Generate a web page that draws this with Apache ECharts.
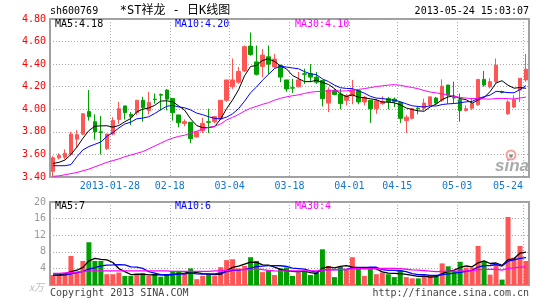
<!DOCTYPE html>
<html><head><meta charset="utf-8">
<script src="https://cdn.jsdelivr.net/npm/echarts@6/dist/echarts.min.js"></script>
<style>html,body{margin:0;padding:0;background:#fff}#c{width:545px;height:300px}</style>
</head><body><div id="c"></div>
<script>
const dates = ['2013-01-14','2013-01-15','2013-01-16','2013-01-17','2013-01-18','2013-01-21','2013-01-22','2013-01-23','2013-01-24','2013-01-25',
'2013-01-28','2013-01-29','2013-01-30','2013-01-31','2013-02-01','2013-02-04','2013-02-05','2013-02-06','2013-02-07','2013-02-08',
'2013-02-18','2013-02-19','2013-02-20','2013-02-21','2013-02-22','2013-02-25','2013-02-26','2013-02-27','2013-02-28','2013-03-01',
'2013-03-04','2013-03-05','2013-03-06','2013-03-07','2013-03-08','2013-03-11','2013-03-12','2013-03-13','2013-03-14','2013-03-15',
'2013-03-18','2013-03-19','2013-03-20','2013-03-21','2013-03-22','2013-03-25','2013-03-26','2013-03-27','2013-03-28','2013-03-29',
'2013-04-01','2013-04-02','2013-04-03','2013-04-08','2013-04-09','2013-04-10','2013-04-11','2013-04-12',
'2013-04-15','2013-04-16','2013-04-17','2013-04-18','2013-04-19','2013-04-22','2013-04-23','2013-04-24','2013-04-25','2013-04-26',
'2013-05-03','2013-05-06','2013-05-07','2013-05-08','2013-05-09','2013-05-10','2013-05-13','2013-05-14','2013-05-15','2013-05-22','2013-05-23','2013-05-24'];

const tickDates = ['2013-01-28','2013-02-18','2013-03-04','2013-03-18','2013-04-01','2013-04-15','2013-05-03','2013-05-24'];
const tickText  = ['2013-01-28','02-18','03-04','03-18','04-01','04-15','05-03','05-24'];

const opens = [3.45,3.57,3.575,3.60,3.735,3.78,3.98,3.89,3.80,3.65,
3.78,3.91,4.03,3.955,3.97,4.08,3.99,4.09,4.13,4.17,
4.095,3.95,3.875,3.885,3.755,3.81,3.89,3.89,3.915,4.08,
4.20,4.24,4.34,4.56,4.42,4.38,4.465,4.375,4.39,4.26,
4.19,4.20,4.315,4.315,4.285,4.255,4.055,4.165,4.135,4.08,
4.12,4.165,4.065,4.08,4.005,4.05,4.095,4.09,4.06,3.90,
3.92,4.01,4.01,4.04,4.10,4.08,4.215,4.105,4.085,3.99,
4.01,4.04,4.265,4.20,4.245,4.155,3.96,4.02,4.17,4.26];
const closes = [3.57,3.59,3.61,3.78,3.775,3.96,3.935,3.80,3.795,3.78,
3.90,4.005,3.97,3.935,4.08,4.015,4.06,4.085,4.125,4.09,
3.97,3.88,3.89,3.74,3.80,3.875,3.885,3.935,4.08,4.26,
4.26,4.335,4.555,4.485,4.31,4.48,4.40,4.445,4.285,4.18,
4.188,4.26,4.31,4.285,4.24,4.095,4.17,4.131,4.05,4.12,
4.17,4.065,4.105,4.005,4.075,4.07,4.065,4.07,3.92,3.93,
4.005,4.005,4.055,4.11,4.055,4.205,4.125,4.10,3.99,4.005,
4.05,4.265,4.215,4.245,4.39,4.15,4.065,4.085,4.275,4.355];
const lows = [3.405,3.555,3.557,3.59,3.66,3.77,3.90,3.73,3.60,3.64,
3.77,3.87,3.91,3.86,3.95,3.89,3.955,4.05,3.99,3.99,
3.90,3.84,3.85,3.70,3.75,3.79,3.79,3.875,3.905,4.065,
4.18,4.225,4.33,4.475,4.30,4.285,4.31,4.365,4.24,4.155,
4.145,4.195,4.225,4.24,4.225,4.025,3.975,4.125,4.0,4.035,
4.045,4.045,4.035,3.88,3.96,4.04,4.0,4.02,3.88,3.79,
3.91,3.955,3.99,4.025,4.045,4.065,4.05,4.05,3.89,3.98,
3.995,4.03,4.20,4.185,4.235,4.14,3.95,4.01,4.065,4.245];
const highs = [3.585,3.61,3.645,3.80,3.815,3.965,4.17,3.955,3.94,3.785,
3.93,4.065,4.03,3.975,4.08,4.11,4.155,4.14,4.14,4.18,
4.095,3.95,3.91,3.885,3.81,3.925,4.005,3.94,4.08,4.26,
4.45,4.375,4.565,4.68,4.565,4.535,4.565,4.49,4.395,4.26,
4.27,4.33,4.36,4.40,4.33,4.255,4.195,4.18,4.18,4.135,
4.26,4.165,4.12,4.08,4.09,4.115,4.11,4.105,4.065,3.95,
4.01,4.025,4.095,4.11,4.11,4.265,4.215,4.245,4.14,4.035,
4.095,4.265,4.34,4.275,4.45,4.165,4.08,4.125,4.275,4.49];

const ma5 = [3.52,3.53,3.55,3.60,3.665,3.743,3.812,3.85,3.853,3.854,
3.842,3.856,3.89,3.918,3.978,4.001,4.012,4.035,4.073,4.075,
4.066,4.03,3.991,3.914,3.856,3.837,3.838,3.846,3.914,4.006,
4.083,4.173,4.298,4.379,4.389,4.433,4.446,4.424,4.384,4.358,
4.30,4.272,4.245,4.245,4.257,4.238,4.22,4.184,4.137,4.113,
4.128,4.107,4.102,4.093,4.084,4.064,4.064,4.057,4.04,4.011,
3.998,3.986,3.983,4.021,4.046,4.086,4.11,4.119,4.095,4.085,
4.054,4.082,4.105,4.156,4.233,4.253,4.213,4.187,4.193,4.186];
const ma10 = [3.50,3.50,3.50,3.51,3.58,3.64,3.67,3.69,3.71,3.76,
3.793,3.834,3.87,3.886,3.916,3.922,3.934,3.963,3.996,4.027,
4.034,4.021,4.013,3.994,3.966,3.952,3.934,3.919,3.914,3.931,
3.96,4.006,4.072,4.147,4.198,4.258,4.31,4.361,4.382,4.374,
4.366,4.359,4.334,4.314,4.307,4.269,4.246,4.214,4.191,4.185,
4.183,4.164,4.143,4.115,4.099,4.096,4.086,4.08,4.067,4.048,
4.031,4.025,4.02,4.031,4.029,4.042,4.048,4.051,4.058,4.066,
4.07,4.096,4.112,4.126,4.159,4.154,4.148,4.146,4.175,4.21];
const ma30 = [3.406,3.41,3.42,3.43,3.44,3.455,3.47,3.49,3.51,3.53,
3.545,3.56,3.58,3.595,3.61,3.625,3.65,3.675,3.70,3.725,
3.745,3.76,3.77,3.79,3.805,3.825,3.84,3.85,3.87,3.906,
3.929,3.954,3.985,4.009,4.026,4.044,4.059,4.081,4.097,4.11,
4.12,4.128,4.14,4.151,4.157,4.159,4.163,4.165,4.162,4.163,
4.17,4.176,4.183,4.192,4.201,4.208,4.214,4.218,4.213,4.202,
4.193,4.182,4.166,4.153,4.145,4.136,4.126,4.115,4.105,4.099,
4.095,4.095,4.092,4.09,4.095,4.097,4.094,4.092,4.10,4.108];

const volumes = [2.4,2.4,2.8,7.0,3.2,5.8,10.3,5.8,5.8,2.6,2.6,3.0,2.2,2.2,2.8,2.8,2.2,2.4,2.0,2.6,
3.4,3.4,2.8,4.0,1.4,2.2,2.6,2.2,4.3,6.0,6.2,4.0,4.6,6.7,5.8,3.1,3.6,2.4,4.0,4.2,
2.2,3.0,3.2,2.4,3.0,8.6,4.6,1.9,4.4,3.8,6.7,4.0,2.2,4.0,2.6,3.0,2.6,1.9,3.5,1.9,
1.6,1.6,2.0,2.4,2.4,5.2,4.5,3.4,5.6,4.2,4.2,9.4,5.6,2.5,4.8,1.3,16.4,6.6,9.4,5.8];
const vma5 = [2.4,2.5,2.7,3.2,3.56,4.24,5.82,6.42,6.18,6.06,
5.42,3.96,3.24,2.52,2.56,2.6,2.44,2.48,2.44,2.4,
2.52,2.76,2.84,3.24,3.0,2.76,2.6,2.48,2.54,3.46,
4.26,4.54,5.02,5.5,5.46,4.84,4.76,4.32,3.78,3.46,
3.28,3.16,3.32,3.0,2.76,4.04,4.36,4.1,4.5,4.66,
4.28,4.16,4.22,4.14,3.9,3.16,2.88,2.82,2.72,2.58,
2.3,2.1,2.12,1.9,2.0,2.72,3.3,3.58,4.22,4.58,
4.38,5.36,5.8,5.18,5.3,4.72,6.12,6.32,7.7,7.9];
const vma10 = [2.3,2.3,2.4,2.7,3.0,3.3,3.8,4.2,4.6,4.81,
4.83,4.89,4.83,4.35,4.31,4.01,3.2,2.86,2.48,2.48,
2.56,2.6,2.66,2.84,2.7,2.64,2.68,2.66,2.89,3.23,
3.51,3.57,3.75,4.02,4.46,4.55,4.65,4.67,4.64,4.46,
4.06,3.96,3.82,3.39,3.11,3.66,3.76,3.71,3.75,3.71,
4.16,4.26,4.16,4.32,4.28,3.72,3.52,3.52,3.43,3.24,
2.73,2.49,2.47,2.31,2.29,2.51,2.7,2.85,3.06,3.29,
3.55,4.33,4.69,4.7,4.94,4.55,5.74,6.06,6.44,6.6];
const vma30 = [2.8,2.8,2.9,3.0,3.1,3.3,3.4,3.4,3.4,3.4,
3.4,3.4,3.4,3.4,3.4,3.4,3.4,3.4,3.4,3.4,
3.3,3.3,3.3,3.3,3.3,3.3,3.3,3.4,3.45,3.51,
3.63,3.69,3.75,3.74,3.82,3.73,3.51,3.40,3.34,3.39,
3.38,3.38,3.41,3.42,3.42,3.62,3.70,3.68,3.76,3.80,
3.91,3.93,3.91,3.91,3.95,3.98,3.98,3.97,3.94,3.80,
3.65,3.57,3.48,3.34,3.23,3.30,3.33,3.36,3.41,3.41,
3.48,3.69,3.77,3.78,3.84,3.59,3.99,4.14,4.31,4.38];

const priceLegend = ['MA5:4.18','MA10:4.20','MA30:4.10'];
const volLegend = ['MA5:7','MA10:6','MA30:4'];

const chart = echarts.init(document.getElementById('c'), null, {renderer:'canvas'});
const MONO = '"DejaVu Sans Mono", monospace';
const UP = '#ff5555', DOWN = '#00a000';
const C5 = '#000000', C10 = '#0000ff', C30 = '#ff00ff';
const candle = dates.map((d, i) => [opens[i], closes[i], lows[i], highs[i]]);
const isUp = i => closes[i] >= opens[i];
const showTick = (idx, val) => tickDates.indexOf(val) >= 0;
const split = {show: true, interval: showTick, lineStyle: {color: '#aaaaaa', type: [1, 2], width: 1}};
const hsplit = {show: true, lineStyle: {color: '#aaaaaa', type: [1, 2], width: 1}};

function txt(text, x, y, color, align, size, extra) {
  return Object.assign({type: 'text', x: x, y: y, z: 100, silent: true,
    style: {text: text, fill: color, font: (size || 10) + 'px ' + MONO, textAlign: align || 'left', textVerticalAlign: 'middle'}}, extra || {});
}
function line(name, data, color, xi, w) {
  return {name: name, type: 'line', xAxisIndex: xi, yAxisIndex: xi, data: data, symbol: 'none', showSymbol: false,
    lineStyle: {color: color, width: w}, itemStyle: {color: color}, z: 5};
}

const option = {
  animation: false,
  backgroundColor: '#ffffff',
  grid: [
    {left: 50, top: 19, width: 479, height: 158, show: true, borderColor: '#a0a0a0', borderWidth: 2, backgroundColor: 'transparent'},
    {left: 50, top: 202, width: 479, height: 83, show: true, borderColor: '#a0a0a0', borderWidth: 2, backgroundColor: 'transparent'}
  ],
  xAxis: [
    {type: 'category', gridIndex: 0, data: dates, boundaryGap: true,
     axisLine: {show: false}, axisTick: {show: false},
     axisLabel: {interval: showTick, margin: 4, color: '#1177cc', fontFamily: MONO, fontSize: 10,
       formatter: function (v) {
         const k = tickDates.indexOf(v);
         if (k < 0) return '';
         return (k === tickDates.length - 1 ? '{e|' : '{n|') + tickText[k] + '}';
       },
       rich: {
         n: {padding: [0, 6, 0, 0], color: '#1177cc', fontFamily: MONO, fontSize: 10},
         e: {padding: [0, 36, 0, 0], color: '#1177cc', fontFamily: MONO, fontSize: 10}
       }},
     splitLine: split},
    {type: 'category', gridIndex: 1, data: dates, boundaryGap: true,
     axisLine: {show: false}, axisTick: {show: false}, axisLabel: {show: false}, splitLine: split}
  ],
  yAxis: [
    {type: 'value', gridIndex: 0, min: 3.4, max: 4.8, interval: 0.2, scale: true,
     axisLine: {show: false}, axisTick: {show: false},
     axisLabel: {color: '#ff0000', fontFamily: MONO, fontSize: 10, margin: 4, formatter: v => v.toFixed(2)},
     splitLine: hsplit},
    {type: 'value', gridIndex: 1, min: 0, max: 20, interval: 4,
     axisLine: {show: false}, axisTick: {show: false},
     axisLabel: {color: '#999999', fontFamily: MONO, fontSize: 10, margin: 4,
       formatter: v => v === 0 ? '{u|x万}' : String(v),
       rich: {u: {color: '#bbbbbb', fontStyle: 'italic', fontSize: 10, fontFamily: '"Noto Sans CJK SC", sans-serif', padding: [4, 2, 0, 0]}}},
     splitLine: hsplit}
  ],
  series: [
    {name: 'K', type: 'candlestick', xAxisIndex: 0, yAxisIndex: 0, data: candle, barWidth: 4,
     itemStyle: {color: UP, color0: DOWN, borderColor: UP, borderColor0: DOWN, borderWidth: 1}},
    line('MA5', ma5, C5, 0, 1),
    line('MA10', ma10, C10, 0, 1),
    line('MA30', ma30, C30, 0, 1),
    {name: 'VOL', type: 'bar', xAxisIndex: 1, yAxisIndex: 1, barWidth: 5,
     data: volumes.map((v, i) => ({value: v, itemStyle: {color: isUp(i) ? UP : DOWN}}))},
    line('VMA5', vma5, C5, 1, 1.3),
    line('VMA10', vma10, C10, 1, 1.3),
    line('VMA30', vma30, C30, 1, 1.3)
  ],
  graphic: [
    txt('sh600769', 50, 11, '#000000'),
    txt('*ST祥龙 - 日K线图', 175, 11, '#000000', 'center', 12, {style: {text: '*ST祥龙 - 日K线图', fill: '#000', font: '12px "DejaVu Sans Mono", "Noto Sans CJK SC", monospace', textAlign: 'center', textVerticalAlign: 'middle'}}),
    txt('2013-05-24 15:03:07', 529, 11, '#000000', 'right'),
    txt(priceLegend[0], 55, 24, C5),
    txt(priceLegend[1], 175, 24, C10),
    txt(priceLegend[2], 295, 24, C30),
    txt(volLegend[0], 55, 206, C5),
    txt(volLegend[1], 175, 206, C10),
    txt(volLegend[2], 295, 206, C30),
    txt('Copyright 2013 SINA.COM', 50, 293, '#444444'),
    txt('http://finance.sina.com.cn', 529, 293, '#444444', 'right'),
    {type: 'circle', shape: {cx: 511, cy: 155, r: 4.5}, z: 1, silent: true, style: {fill: 'none', stroke: '#f4a0a0', lineWidth: 2}},
    {type: 'circle', shape: {cx: 511, cy: 156, r: 1.8}, z: 1, silent: true, style: {fill: '#888'}},
    {type: 'text', x: 512, y: 166, z: 1, silent: true,
     style: {text: 'sina', fill: '#aaaaaa', font: 'italic bold 17px "Liberation Sans", sans-serif', textAlign: 'center', textVerticalAlign: 'middle'}}
  ]
};
chart.setOption(option);
</script>
</body></html>
